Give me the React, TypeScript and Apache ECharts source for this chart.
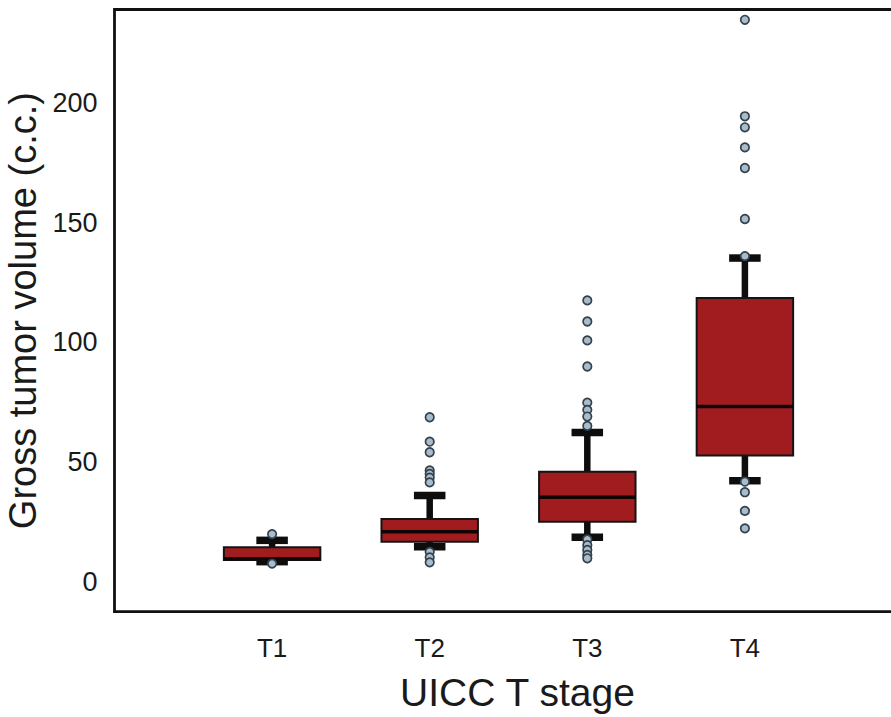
import React, { useEffect, useRef } from "react";
import * as echarts from "echarts";

const categories = ["T1", "T2", "T3", "T4"];
// [position, lowerWhisker, Q1, median, Q3, upperWhisker]
const boxStats = [
  [1, 8.4, 9.1, 9.6, 14.4, 17.3],
  [2, 14.6, 16.7, 20.9, 26.2, 36.0],
  [3, 18.6, 25.1, 35.3, 46.0, 62.3],
  [4, 42.2, 52.7, 73.2, 118.5, 135.2],
];
const outliersT1 = [19.9, 7.6];
const outliersT2 = [68.7, 58.5, 54.1, 46.5, 45.0, 43.5, 41.5, 12.5, 10.2, 8.1];
const outliersT3 = [117.5, 108.7, 100.8, 89.9, 74.8, 71.8, 69.0, 65.1, 17.7, 15.3, 13.3, 11.2, 9.8];
const outliersT4 = [234.7, 194.4, 189.8, 181.4, 172.8, 151.5, 136.0, 41.8, 37.4, 29.6, 22.3];
const yTicks = [0, 50, 100, 150, 200];

const FONT = "'Liberation Sans', Arial, Helvetica, sans-serif";
const BOX_W = 0.612;
const CAP_W = 0.2;

export default function App() {
  const ref = useRef<HTMLDivElement>(null);
  useEffect(() => {
    if (!ref.current) return;
    const chart = echarts.init(ref.current, null, { renderer: "svg" });
    const outlierData: number[][] = [];
    [outliersT1, outliersT2, outliersT3, outliersT4].forEach((arr, i) =>
      arr.forEach((v) => outlierData.push([i + 1, v]))
    );
    chart.setOption({
      animation: false,
      backgroundColor: "#ffffff",
      grid: {
        left: 114.5,
        top: 9.5,
        width: 788,
        bottom: 105.3,
        containLabel: false,
        outerBoundsMode: "none",
        show: true,
        borderColor: "#111111",
        borderWidth: 2.8,
      },
      xAxis: {
        type: "value",
        min: 0,
        max: 5,
        interval: 1,
        axisLine: { show: false },
        axisTick: { show: false },
        splitLine: { show: false },
        axisLabel: {
          fontSize: 26,
          fontFamily: FONT,
          color: "#1a1a1a",
          margin: 23,
          formatter: (v: number) => categories[v - 1] || "",
        },
        name: "UICC T stage",
        nameLocation: "middle",
        nameGap: 61,
        nameTextStyle: { fontSize: 39, fontFamily: FONT, color: "#1a1a1a", padding: [0, 0, 0, 18] },
      },
      yAxis: {
        type: "value",
        min: -12.5,
        max: 239,
        axisLine: { show: false },
        axisTick: { show: false },
        splitLine: { show: false },
        axisLabel: {
          customValues: yTicks,
          fontSize: 27,
          fontFamily: FONT,
          color: "#1a1a1a",
          margin: 17,
        },
        name: "Gross tumor volume (c.c.)",
        nameLocation: "middle",
        nameRotate: 90,
        nameGap: 65,
        nameTextStyle: { fontSize: 38, fontFamily: FONT, color: "#1a1a1a" },
      },
      series: [
        {
          type: "custom",
          data: boxStats,
          encode: { x: 0, y: [1, 2, 3, 4, 5] },
          renderItem: (params: any, api: any) => {
            const x = api.value(0);
            const lo = api.coord([x, api.value(1)]);
            const q1 = api.coord([x, api.value(2)]);
            const med = api.coord([x, api.value(3)]);
            const q3 = api.coord([x, api.value(4)]);
            const hi = api.coord([x, api.value(5)]);
            const bw = api.size([BOX_W, 0])[0];
            const cw = api.size([CAP_W, 0])[0];
            const cx = lo[0];
            const wStyle = { stroke: "#0d0d0d", lineWidth: 6.5 };
            const cStyle = { stroke: "#0d0d0d", lineWidth: 7.5 };
            return {
              type: "group",
              children: [
                { type: "line", shape: { x1: cx, y1: hi[1], x2: cx, y2: q3[1] }, style: wStyle },
                { type: "line", shape: { x1: cx, y1: q1[1], x2: cx, y2: lo[1] }, style: wStyle },
                { type: "line", shape: { x1: cx - cw / 2, y1: hi[1], x2: cx + cw / 2, y2: hi[1] }, style: cStyle },
                { type: "line", shape: { x1: cx - cw / 2, y1: lo[1], x2: cx + cw / 2, y2: lo[1] }, style: cStyle },
                {
                  type: "rect",
                  shape: { x: cx - bw / 2, y: q3[1], width: bw, height: q1[1] - q3[1] },
                  style: { fill: "#a11c1f", stroke: "#141414", lineWidth: 2 },
                },
                {
                  type: "line",
                  shape: { x1: cx - bw / 2, y1: med[1], x2: cx + bw / 2, y2: med[1] },
                  style: { stroke: "#120405", lineWidth: 3.5 },
                },
              ],
            };
          },
          z: 2,
        },
        {
          type: "scatter",
          data: outlierData,
          symbol: "circle",
          symbolSize: 8.5,
          itemStyle: { color: "#a9bccb", borderColor: "#34424d", borderWidth: 1.7, opacity: 1 },
          z: 3,
        },
      ],
    });
    return () => chart.dispose();
  }, []);
  return (
    <div
      ref={ref}
      style={{ position: "fixed", left: 0, top: 0, width: 891, height: 717, background: "#fff" }}
    />
  );
}
